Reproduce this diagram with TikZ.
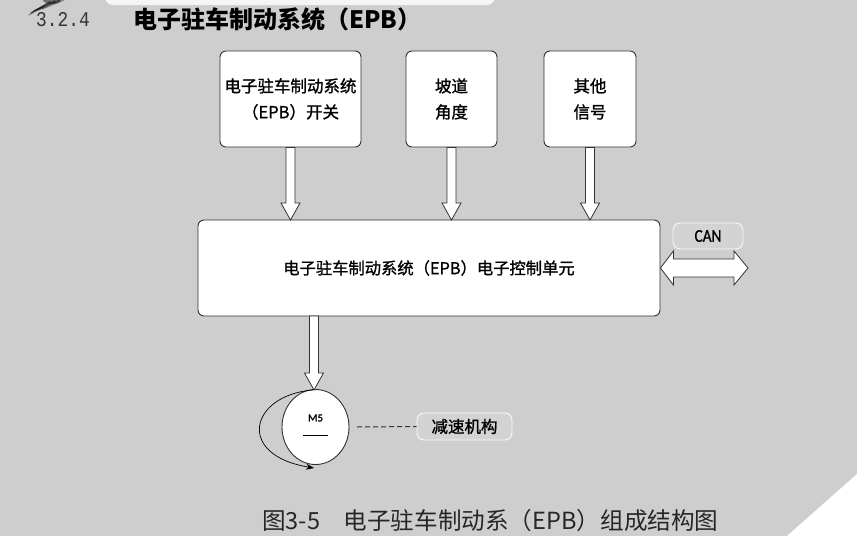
\documentclass[tikz,border=0pt]{standalone}
\usepackage{fontspec}
\setmainfont{Noto Sans CJK SC}
\newfontfamily\cjk[FakeBold=1.2]{Noto Sans CJK SC}
\newfontfamily\cjkplain{Noto Sans CJK SC}
\newfontfamily\monofnt{Liberation Mono}
\newfontfamily\calib[FakeBold=1]{Carlito}
\usetikzlibrary{shapes.geometric,arrows.meta,calc}
\definecolor{bgc}{RGB}{206,206,206}
\definecolor{edgec}{RGB}{50,50,50}
\newcommand\blockdown[2]{%
  \draw[barrow] ($(#1)+(-4.5,0)$) -- ($(#1)+(4.5,0)$) -- ($(#2)+(4.5,-17)$) -- ($(#2)+(9.5,-17)$)
    -- (#2) -- ($(#2)+(-9.5,-17)$) -- ($(#2)+(-4.5,-17)$) -- cycle;}
\begin{document}
\begin{tikzpicture}[x=1pt,y=-1pt,
  box/.style={draw=edgec, fill=white, rounded corners=6pt, line width=0.9pt, inner sep=0pt},
  lbl/.style={draw=white!95!gray, fill=bgc!90!white, rounded corners=7pt, line width=0.9pt, inner sep=0pt},
  barrow/.style={draw=edgec, fill=white, line width=0.8pt, line join=miter},
  boxtxt/.style={font=\cjk\fontsize{16.5}{26}\selectfont, align=center, text=black}]
\useasboundingbox (0,0) rectangle (857,536);
\fill[bgc] (0,0) rectangle (857,536);
% page decorations
\fill[white!80!bgc, rounded corners=8pt] (105,-12) rectangle (495,5);
\fill[white] (857,474) -- (857,536) -- (787,536) -- cycle;
\draw[black, opacity=0.6, line width=1.5pt, line cap=round] (31,13) -- (50,2);
\draw[black, opacity=0.5, line width=1.5pt, line cap=round] (34,11) -- (55,1);
\draw[black, opacity=0.45, line width=1.5pt, line cap=round] (38,10) -- (60,0);
\draw[black, opacity=0.35, line width=1.2pt, line cap=round] (42,9) -- (64,0);
\draw[black, opacity=0.3, line width=1.2pt, line cap=round] (29,15) -- (44,6);
\fill[black, opacity=0.45] (52,0) ellipse (9pt and 4pt);
% headings
\node[anchor=west, font=\monofnt\fontsize{21}{24}\selectfont, xscale=0.85, text=black!80, inner sep=0pt] (num) at (36,20) {3.2.4};
\node[anchor=west, font=\cjkplain\bfseries\fontsize{24}{28}\selectfont, text=black, inner sep=0pt] (title) at (133,19) {电子驻车制动系统（EPB）};
% input boxes
\node[box, minimum width=141pt, minimum height=96pt] (b1) at (290.5,99) {};
\node[boxtxt] at (b1) {电子驻车制动系统\\（EPB）开关};
\node[box, minimum width=91pt, minimum height=96pt] (b2) at (451.5,99) {};
\node[boxtxt] at (b2) {坡道\\角度};
\node[box, minimum width=92pt, minimum height=96pt] (b3) at (590,99) {};
\node[boxtxt] at (b3) {其他\\信号};
% main unit
\node[box, minimum width=462pt, minimum height=96pt] (main) at (429,268) {};
\node[font=\cjk\fontsize{16.3}{20}\selectfont, text=black] at (main) {电子驻车制动系统（EPB）电子控制单元};
% motor and curve coordinates
\node[ellipse, draw=edgec, fill=white, line width=0.9pt, minimum width=67pt, minimum height=75pt, inner sep=0pt] (motor) at (315.5,427) {};
\coordinate (cstart) at (313,390);
\coordinate (cend) at (314,468);
\coordinate (mtop) at (314,316);
\coordinate (mbot) at (314,390);
\coordinate (m1) at (290.5,220);
\coordinate (m2) at (451.5,220);
\coordinate (m3) at (590,220);
\coordinate (canend) at (748,268);
% arrows into main
\blockdown{b1.south}{m1}
\blockdown{b2.south}{m2}
\blockdown{b3.south}{m3}
% CAN
\node[lbl, minimum width=70pt, minimum height=26pt, font=\calib\fontsize{18}{20}\selectfont] (can) at (708,236) {\scalebox{0.85}[1]{CAN}};
\draw[barrow] (main.east) -- ++(13,17) -- ++(0,-8) -- ($(canend)+(-14,9)$) -- ($(canend)+(-14,17)$)
  -- (canend) -- ($(canend)+(-14,-17)$) -- ($(canend)+(-14,-9)$) -- ($(main.east)+(13,-9)$) -- ($(main.east)+(13,-17)$) -- cycle;
% motor
\node[font=\calib\fontsize{11}{12}\selectfont, inner sep=0pt] (m5) at (315.5,418) {M5};
\draw[black, line width=0.8pt] (303,435) -- (328,435);
\blockdown{mtop}{mbot}
\draw[black, line width=0.7pt, -{Stealth[length=8pt,width=6pt]}] (cstart) .. controls (250,395) and (235,455) .. (cend);
% reducer
\node[lbl, minimum width=95pt, minimum height=27pt, font=\cjk\fontsize{16.5}{18}\selectfont] (red) at (464.5,426.5) {减速机构};
\coordinate (dstart) at (357,427);
\draw[black!80, line width=1pt, dash pattern=on 5pt off 3pt] (dstart) -- (red.west);
% caption
\node[anchor=west, font=\cjkplain\fontsize{23.6}{27}\selectfont, text=black!85, inner sep=0pt] (cap) at (262,521) {图3-5　电子驻车制动系（EPB）组成结构图};
\end{tikzpicture}
\end{document}
